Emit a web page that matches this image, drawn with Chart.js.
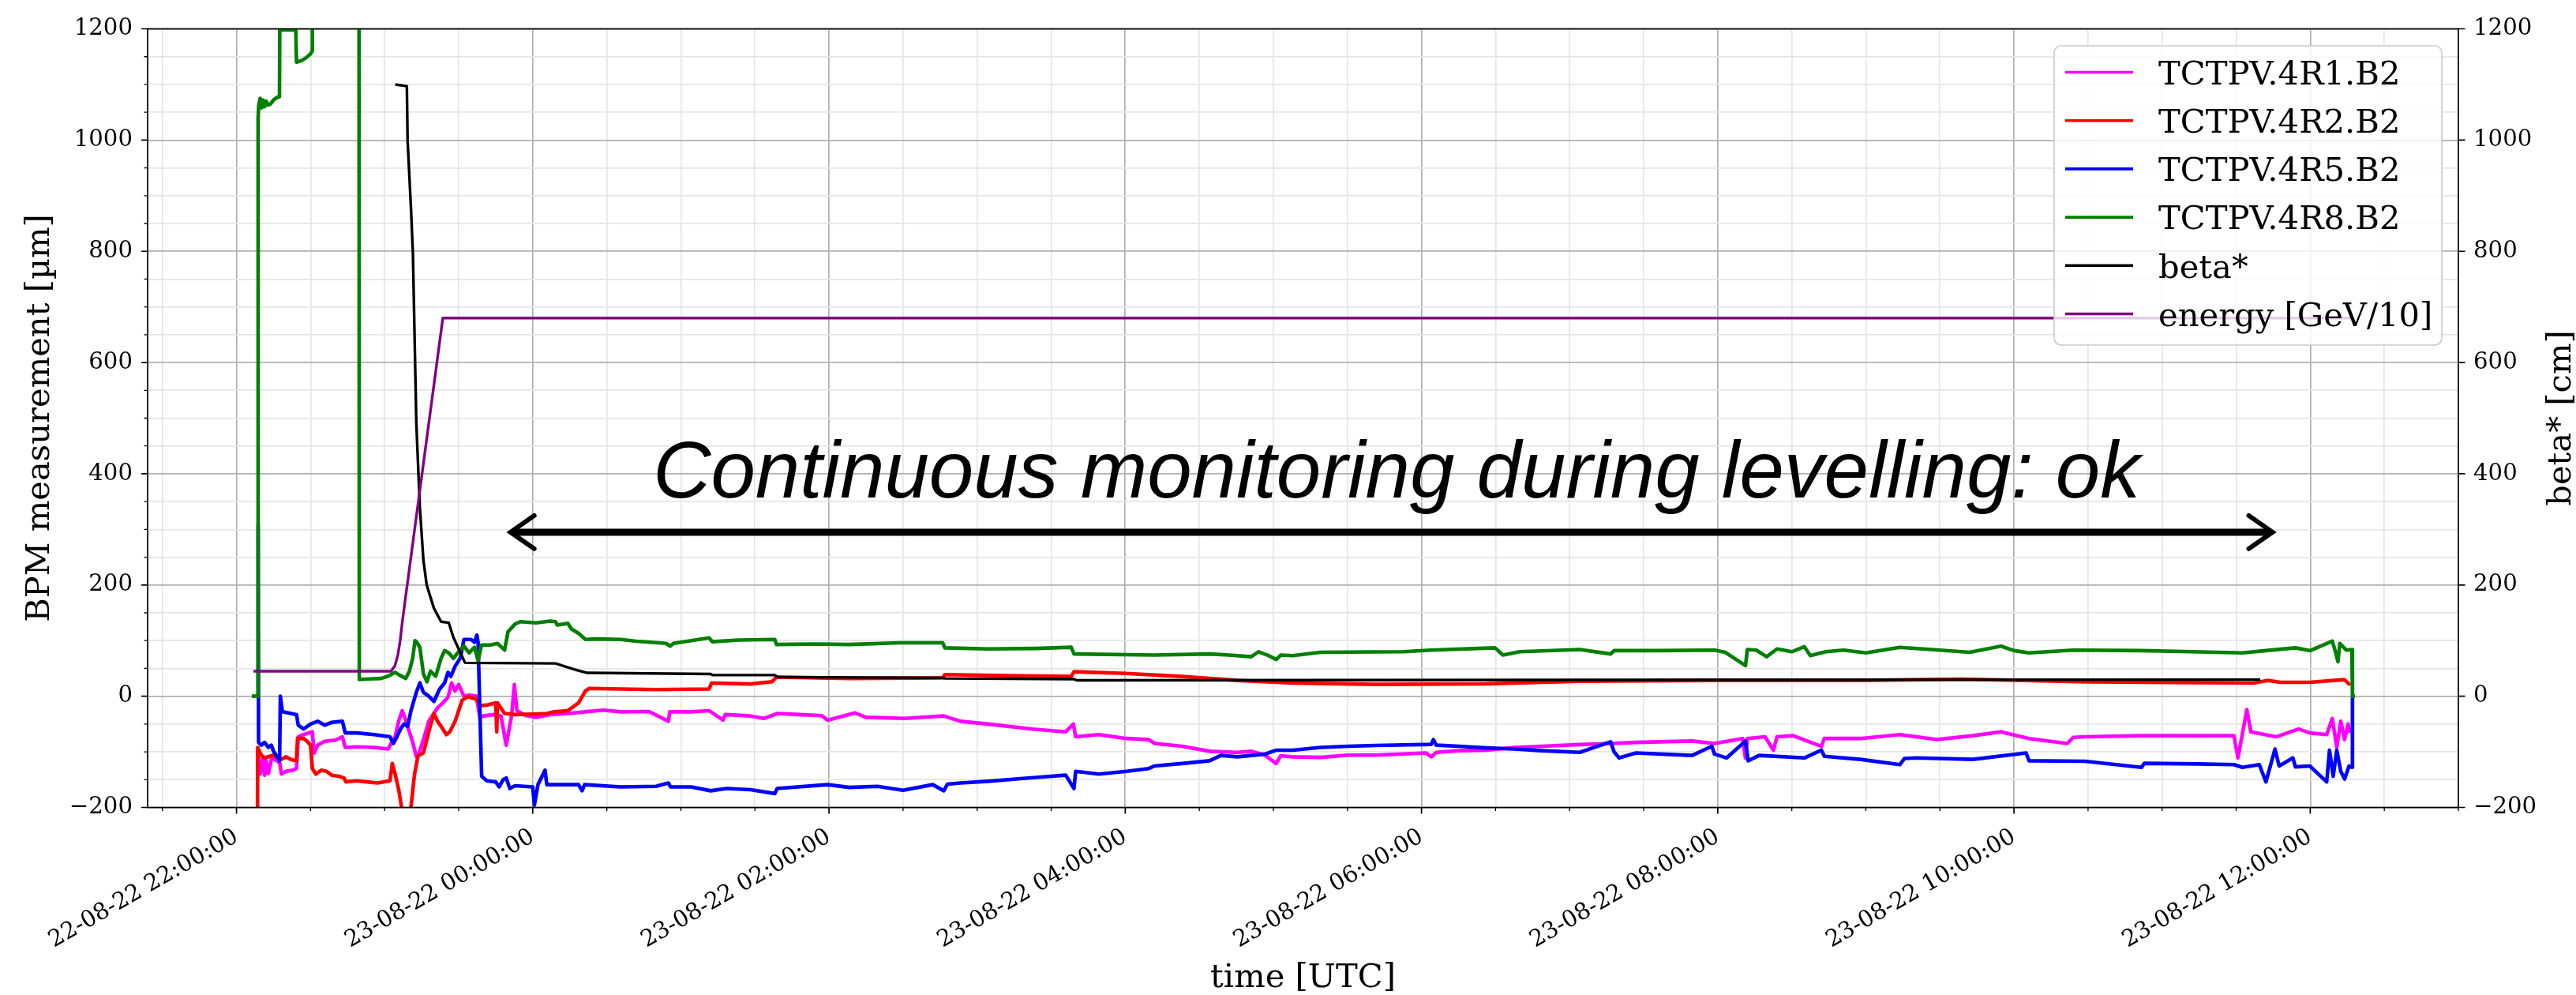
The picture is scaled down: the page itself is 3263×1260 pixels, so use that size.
<!DOCTYPE html>
<html><head><meta charset="utf-8">
<script src="https://cdn.jsdelivr.net/npm/chart.js@4.4.1/dist/chart.umd.min.js"></script>
<style>html,body{margin:0;padding:0;background:#fff;overflow:hidden}#wrap{width:3263px;height:1260px;position:relative}</style>
</head><body><div id="wrap"><canvas id="c"></canvas></div>
<script>
// ---------------- DATA (time in hours since 22-08-22 00:00 UTC) ----------------
const seriesLabels = ['TCTPV.4R1.B2','TCTPV.4R2.B2','TCTPV.4R5.B2','TCTPV.4R8.B2','beta*','energy [GeV/10]'];

const m_t = [22.146,22.148,22.160,22.175,22.190,22.200,22.215,22.238,22.274,22.293,22.303,22.334,22.381,22.405,22.417,22.453,22.512,22.524,22.548,22.595,22.667,22.715,22.734,22.810,22.929,23.024,23.043,23.071,23.095,23.119,23.138,23.155,23.190,23.214,23.233,23.262,23.298,23.321,23.357,23.393,23.428,23.452,23.476,23.500,23.535,23.571,23.619,23.643,23.667,23.738,23.786,23.821,23.857,23.876,23.893,23.952,24.023,24.118,24.237,24.356,24.475,24.594,24.785,24.916,24.925,25.070,25.190,25.285,25.300,25.470,25.560,25.653,25.800,25.952,25.990,26.176,26.250,26.513,26.775,26.887,27.074,27.373,27.598,27.650,27.665,27.822,28.009,28.159,28.200,28.383,28.570,28.757,28.850,28.944,29.019,29.050,29.131,29.318,29.505,29.692,30.029,30.066,30.100,30.253,30.440,30.627,30.814,31.068,31.277,31.448,31.827,31.978,32.168,32.187,32.200,32.320,32.376,32.400,32.509,32.700,32.720,32.964,33.229,33.480,33.722,33.912,34.101,34.360,34.400,34.480,34.860,35.239,35.485,35.512,35.572,35.599,35.770,35.921,35.997,36.111,36.149,36.179,36.206,36.232,36.255,36.270];
const m_v = [-100,-121,-140,-111,-142,-116,-139,-111,-116,-121,-140,-135,-133,-130,-73,-69,-64,-102,-88,-81,-79,-73,-92,-91,-92,-95,-85,-73,-45,-26,-40,-54,-83,-109,-102,-78,-45,-35.5,-21,-12,-2,24,9.5,21,0,2,0,-38,-35.5,-33,-35.5,-88,-35.5,21,-26,-34.6,-38,-33,-31,-28,-25,-28,-27.5,-45,-28,-28,-26,-43,-33,-35.5,-40,-31,-33,-35,-43,-30,-38,-40,-35.5,-45,-50,-59,-64,-50,-73,-69,-76,-78,-85,-90,-99,-101,-99,-106,-121,-107,-109,-110,-106,-106,-102,-109,-101,-98,-97,-92,-90,-87,-85,-83,-80.5,-85,-76,-111,-76,-73,-97,-73,-71,-90,-76,-76,-69,-78,-71,-64,-76,-85,-74,-73,-71,-71,-71,-111,-24,-64,-73,-59,-66,-69,-40,-92,-45,-78,-50,-66];

const r_t = [22.140,22.143,22.167,22.190,22.250,22.298,22.335,22.370,22.405,22.412,22.453,22.477,22.500,22.512,22.536,22.572,22.607,22.643,22.691,22.726,22.738,22.810,22.881,22.953,23.036,23.052,23.071,23.095,23.114,23.140,23.170,23.178,23.202,23.226,23.262,23.298,23.333,23.357,23.381,23.417,23.440,23.476,23.524,23.560,23.619,23.643,23.690,23.750,23.757,23.762,23.810,23.881,24.000,24.095,24.142,24.237,24.309,24.356,24.380,24.594,24.832,25.190,25.208,25.470,25.615,25.645,26.139,26.768,26.782,27.200,27.635,27.654,28.000,28.383,28.757,29.131,29.692,30.440,31.068,31.978,32.960,33.646,34.500,35.618,35.710,35.800,35.997,36.230,36.262,36.270];
const r_v = [-400,-92,-106,-111,-106,-114,-109,-114,-116,-76,-76,-81,-88,-130,-140,-133,-135,-142,-144,-147,-154,-152,-154,-156,-152,-121,-140,-168,-199,-260,-230,-199,-140,-107,-102,-64,-31,-45,-54,-69,-64,-45,-7,-1,-5,-17,-16,-12,-64,-12,-31,-33,-32,-31,-28,-26,-12,9.5,14,13,12,13,23.6,22,26,34.5,32,33,39,37,35.5,44,41,35.5,28.4,23.6,21.3,22.2,27,28.4,28.4,30.7,26,23.6,28.4,25,25,29.8,22,23.7];

const u_t = [22.143,22.146,22.149,22.167,22.190,22.215,22.235,22.250,22.267,22.291,22.296,22.310,22.405,22.417,22.453,22.500,22.548,22.595,22.643,22.715,22.734,22.810,22.929,23.036,23.059,23.083,23.107,23.131,23.155,23.178,23.214,23.238,23.262,23.298,23.333,23.369,23.405,23.428,23.447,23.476,23.512,23.535,23.583,23.607,23.623,23.631,23.643,23.655,23.690,23.750,23.773,23.800,23.821,23.845,23.881,24.000,24.011,24.035,24.083,24.095,24.237,24.309,24.333,24.350,24.594,24.832,24.916,24.930,25.070,25.201,25.308,25.470,25.634,25.650,25.989,26.139,26.326,26.500,26.700,26.775,26.800,26.887,27.074,27.261,27.448,27.598,27.654,27.665,27.822,28.009,28.159,28.196,28.383,28.570,28.645,28.757,28.944,29.019,29.131,29.318,29.505,29.692,30.066,30.080,30.100,30.253,30.440,30.627,30.814,31.068,31.277,31.300,31.334,31.448,31.827,31.960,31.978,32.060,32.187,32.205,32.280,32.585,32.700,32.720,32.964,33.229,33.260,33.343,33.722,34.082,34.101,34.480,34.860,34.880,35.239,35.485,35.542,35.656,35.701,35.762,35.790,35.883,35.900,35.997,36.111,36.130,36.155,36.179,36.206,36.232,36.262,36.281,36.285];
const u_v = [0,310,-83,-88,-83,-92,-88,-99,-106,-116,0,-28,-33,-52,-59,-50,-45,-52,-47,-45,-66,-66,-69,-73,-85,-73,-59,-50,-54,-26,7,24,7,0,-9.5,12,24,43,35.5,54,69,102,102,97,110,97,-26,-144,-152,-154,-163,-150,-147,-166,-161,-163,-196,-159,-133,-159,-159,-159,-170,-159,-163,-162,-156,-163,-163,-170,-166,-168,-175,-166,-159,-164,-162,-169,-159,-170,-158,-156,-153,-149,-145,-142,-166,-135,-140,-135,-130,-125.5,-121,-116,-106.5,-109,-104,-97,-97,-92,-90,-88.6,-86.6,-78,-88,-90,-93,-95,-98,-101,-82,-100,-111,-102,-106.5,-90,-104,-111,-80.5,-116,-106.5,-111,-97,-108,-113.6,-123,-112,-111,-113.6,-102,-116,-117,-128,-120.7,-121.7,-123,-128,-123,-154,-95,-125.5,-111,-127,-125.5,-154,-97,-144,-97,-135,-149,-125.5,-128,0];

const g_t = [22.103,22.143,22.146,22.150,22.160,22.170,22.180,22.190,22.200,22.215,22.230,22.250,22.275,22.290,22.292,22.400,22.405,22.440,22.470,22.500,22.510,22.512,22.827,22.829,22.900,22.976,23.024,23.050,23.071,23.100,23.143,23.167,23.190,23.205,23.214,23.238,23.262,23.286,23.310,23.345,23.381,23.405,23.433,23.464,23.500,23.535,23.571,23.607,23.631,23.654,23.714,23.762,23.810,23.833,23.881,23.916,24.023,24.118,24.154,24.166,24.237,24.261,24.309,24.356,24.428,24.594,24.700,24.900,24.928,24.950,25.190,25.213,25.390,25.634,25.645,25.900,26.139,26.476,26.768,26.782,27.074,27.400,27.635,27.654,28.196,28.570,28.700,28.850,28.900,28.960,29.019,29.050,29.131,29.318,29.879,30.066,30.496,30.550,30.664,31.068,31.277,31.300,31.600,31.978,32.050,32.187,32.200,32.260,32.330,32.400,32.500,32.585,32.625,32.730,32.850,33.000,33.229,33.500,33.700,33.912,34.000,34.101,34.400,34.860,35.200,35.542,35.700,35.900,36.000,36.149,36.170,36.187,36.200,36.243,36.281,36.285,36.302];
const g_v = [0,0,1040,1062,1075,1058,1072,1060,1070,1063,1065,1072,1077,1078,1198,1198,1140,1143,1148,1155,1160,1500,1500,30,31,32,36,40,43,38,32,45,69,100,98,88,40,26,45,36,68,82,78,68,80,90,78,88,64,92,92,95,83,116,130,134,132,135,134,128,131,121,113,102,103,102,99,95,90,95,105,98,101,102,93,94,93,96,96,87,85,86,88,76,74,76,74,71,80,74,66,74,73,79,80,83,87,74,80,84,76,82,82,83,79,55,84,83,71,85,80,89,73,80,83,78,88,83,79,90,82,78,83,82,80,78,82,87,82,99,80,62,95,83,84,0,0];

const b_t = [23.072,23.150,23.155,23.179,23.191,23.214,23.238,23.262,23.284,23.333,23.381,23.433,23.464,23.512,23.543,24.154,24.237,24.297,24.368,25.201,25.213,25.634,25.653,26.768,26.782,27.654,27.672,31.068,35.663];
const b_v = [1100,1097,1000,871,795,491,339,244,200,158,134,132,106,78,60,59,52,47,42,40,38,38,34.5,33,32,30.7,28.5,29.3,29.8];

const e_t = [22.115,23.043,23.070,23.090,23.105,23.120,23.140,23.160,23.393,36.280];
const e_v = [45,45,55,75,100,135,175,215,680,680];

// tick labels
const xTickHours  = [22,24,26,28,30,32,34,36];
const xTickLabels = ['22-08-22 22:00:00','23-08-22 00:00:00','23-08-22 02:00:00','23-08-22 04:00:00','23-08-22 06:00:00','23-08-22 08:00:00','23-08-22 10:00:00','23-08-22 12:00:00'];
const yTickValues = [-200,0,200,400,600,800,1000,1200];
const yTickLabels = ['\u2212200','0','200','400','600','800','1000','1200'];

// ---------------- STYLE / LAYOUT ----------------
const seriesColors = ['#ff00ff','#ff0000','#0000ff','#008000','#000000','#800080'];
const seriesWidths = [4.6, 4.6, 4.6, 4.6, 3.4, 3.4];
const SERIF = 'DejaVu Serif';
const TICK_FS = 29.2, LABEL_FS = 41.7;
const note = {text:'Continuous monitoring during levelling: ok', x:29.832, y:357, width:1884};
const arrow = {x1:23.85, x2:35.745, y:295};

Chart.defaults.font.family = SERIF;
Chart.defaults.color = '#000';

const pairs = (t, v) => t.map((x, i) => ({x, y: v[i]}));
const seriesT = [m_t, r_t, u_t, g_t, b_t, e_t];
const seriesV = [m_v, r_v, u_v, g_v, b_v, e_v];
const axisOf = ['y','y','y','y','y2','y2'];

const datasets = seriesLabels.map((lab, i) => ({
  label: lab,
  data: pairs(seriesT[i], seriesV[i]),
  borderColor: seriesColors[i],
  backgroundColor: seriesColors[i],
  borderWidth: seriesWidths[i],
  pointRadius: 0,
  tension: 0,
  fill: false,
  clip: 0,
  borderJoinStyle: 'round',
  yAxisID: axisOf[i],
  order: seriesLabels.length - i
}));

const isMajorX = v => Math.abs(v % 2) < 1e-9;
const isMajorY = v => Math.abs(v % 200) < 1e-9;

const decor = {
  id: 'decor',
  afterDatasetsDraw(chart) {
    const {ctx, chartArea: a, scales} = chart;
    const X = scales.x, Y = scales.y, Y2 = scales.y2;
    ctx.save();
    const drawTicks = (list, width) => {
      ctx.beginPath();
      list.forEach(s => { ctx.moveTo(s[0], s[1]); ctx.lineTo(s[2], s[3]); });
      ctx.lineWidth = width; ctx.strokeStyle = '#000'; ctx.stroke();
    };
    const maj = [], mnr = [];
    X.ticks.forEach(t => {
      const p = X.getPixelForValue(t.value);
      if (isMajorX(t.value)) maj.push([p, a.bottom, p, a.bottom + 8]);
      else mnr.push([p, a.bottom, p, a.bottom + 4.5]);
    });
    Y.ticks.forEach(t => {
      const p = Y.getPixelForValue(t.value);
      if (isMajorY(t.value)) maj.push([a.left, p, a.left - 8, p]);
      else mnr.push([a.left, p, a.left - 4.5, p]);
    });
    Y2.ticks.forEach(t => {
      const p = Y2.getPixelForValue(t.value);
      maj.push([a.right, p, a.right + 8.5, p]);
    });
    drawTicks(maj, 1.7);
    drawTicks(mnr, 1.3);
    ctx.lineWidth = 1.7; ctx.strokeStyle = '#000';
    ctx.strokeRect(a.left, a.top, a.right - a.left, a.bottom - a.top);

    // right axis title
    ctx.save();
    ctx.translate(3245, (a.top + a.bottom) / 2);
    ctx.rotate(-Math.PI / 2);
    ctx.font = LABEL_FS + 'px "' + SERIF + '"';
    ctx.textAlign = 'center'; ctx.textBaseline = 'middle'; ctx.fillStyle = '#000';
    ctx.fillText('beta* [cm]', 0, 0);
    ctx.restore();

    // annotation arrow
    const ax1 = X.getPixelForValue(arrow.x1), ax2 = X.getPixelForValue(arrow.x2), ay = Y.getPixelForValue(arrow.y);
    ctx.strokeStyle = '#000'; ctx.lineCap = 'butt';
    ctx.lineWidth = 9;
    ctx.beginPath(); ctx.moveTo(ax1 + 4, ay); ctx.lineTo(ax2 - 4, ay); ctx.stroke();
    ctx.lineWidth = 6; ctx.lineJoin = 'miter'; ctx.lineCap = 'round';
    ctx.beginPath();
    ctx.moveTo(ax1 + 30, ay - 21); ctx.lineTo(ax1, ay); ctx.lineTo(ax1 + 30, ay + 21);
    ctx.moveTo(ax2 - 30, ay - 21); ctx.lineTo(ax2, ay); ctx.lineTo(ax2 - 30, ay + 21);
    ctx.stroke();
    // annotation text
    let fs = 100;
    ctx.font = 'italic ' + fs + 'px "Liberation Sans"';
    fs = fs * note.width / ctx.measureText(note.text).width;
    ctx.font = 'italic ' + fs.toFixed(2) + 'px "Liberation Sans"';
    ctx.textAlign = 'center'; ctx.textBaseline = 'alphabetic'; ctx.fillStyle = '#000';
    ctx.fillText(note.text, X.getPixelForValue(note.x), Y.getPixelForValue(note.y));

    // legend
    const L = {x: 2602, y: 58, w: 491, h: 379, r: 9};
    ctx.beginPath();
    ctx.roundRect(L.x, L.y, L.w, L.h, L.r);
    ctx.fillStyle = 'rgba(255,255,255,0.8)'; ctx.fill();
    ctx.lineWidth = 1.7; ctx.strokeStyle = '#cccccc'; ctx.stroke();
    ctx.font = LABEL_FS + 'px "' + SERIF + '"';
    ctx.textAlign = 'left'; ctx.textBaseline = 'alphabetic';
    chart.data.datasets.forEach((ds, i) => {
      const ly = 91.5 + i * 61.2;
      ctx.beginPath(); ctx.moveTo(2616, ly); ctx.lineTo(2702, ly);
      ctx.lineWidth = 3.6; ctx.lineCap = 'butt'; ctx.strokeStyle = ds.borderColor; ctx.stroke();
      ctx.fillStyle = '#000';
      ctx.fillText(ds.label, 2734, ly + 15.2);
    });
    ctx.restore();
  }
};

new Chart(document.getElementById('c'), {
  type: 'line',
  data: {datasets},
  plugins: [decor],
  options: {
    responsive: true, maintainAspectRatio: false, animation: false, events: [],
    devicePixelRatio: 1,
    layout: {padding: {top: 36.5, left: 0, right: 0, bottom: 0}},
    plugins: {legend: {display: false}, tooltip: {enabled: false}},
    scales: {
      x: {
        type: 'linear', min: 21.40, max: 37.0,
        afterFit: s => { s.height = 237.5; },
        border: {display: false},
        grid: {
          drawTicks: false,
          color: c => (c.tick && isMajorX(c.tick.value)) ? '#b0b0b0' : '#e6e6e6',
          lineWidth: 1.7
        },
        ticks: {
          stepSize: 0.5, includeBounds: false, autoSkip: false,
          minRotation: 30, maxRotation: 30, padding: 20,
          font: {family: SERIF, size: TICK_FS}, color: '#000',
          callback: v => { const i = xTickHours.indexOf(Math.round(v * 1000) / 1000); return i >= 0 ? xTickLabels[i] : ''; }
        },
        title: {display: true, text: 'time [UTC]', color: '#000', font: {family: SERIF, size: LABEL_FS, lineHeight: 1}, padding: {top: 0, bottom: 0}}
      },
      y: {
        type: 'linear', position: 'left', min: -200, max: 1200,
        afterFit: s => { s.width = 187; },
        border: {display: false},
        grid: {
          drawTicks: false,
          color: c => (c.tick && isMajorY(c.tick.value)) ? '#b0b0b0' : '#e6e6e6',
          lineWidth: 1.7
        },
        ticks: {
          stepSize: 50, padding: 19, autoSkip: false,
          font: {family: SERIF, size: TICK_FS}, color: '#000',
          callback: v => { const i = yTickValues.indexOf(v); return i >= 0 ? yTickLabels[i] : ''; }
        },
        title: {display: true, text: 'BPM measurement [\u00b5m]', color: '#000', font: {family: SERIF, size: LABEL_FS, lineHeight: 1}, padding: {top: 30, bottom: 0}}
      },
      y2: {
        type: 'linear', position: 'right', min: -200, max: 1200,
        afterFit: s => { s.width = 149; },
        border: {display: false},
        grid: {drawOnChartArea: false, drawTicks: false},
        ticks: {
          stepSize: 200, padding: 19, autoSkip: false,
          font: {family: SERIF, size: TICK_FS}, color: '#000',
          callback: v => { const i = yTickValues.indexOf(v); return i >= 0 ? yTickLabels[i] : ''; }
        }
      }
    }
  }
});
</script>
</body></html>
